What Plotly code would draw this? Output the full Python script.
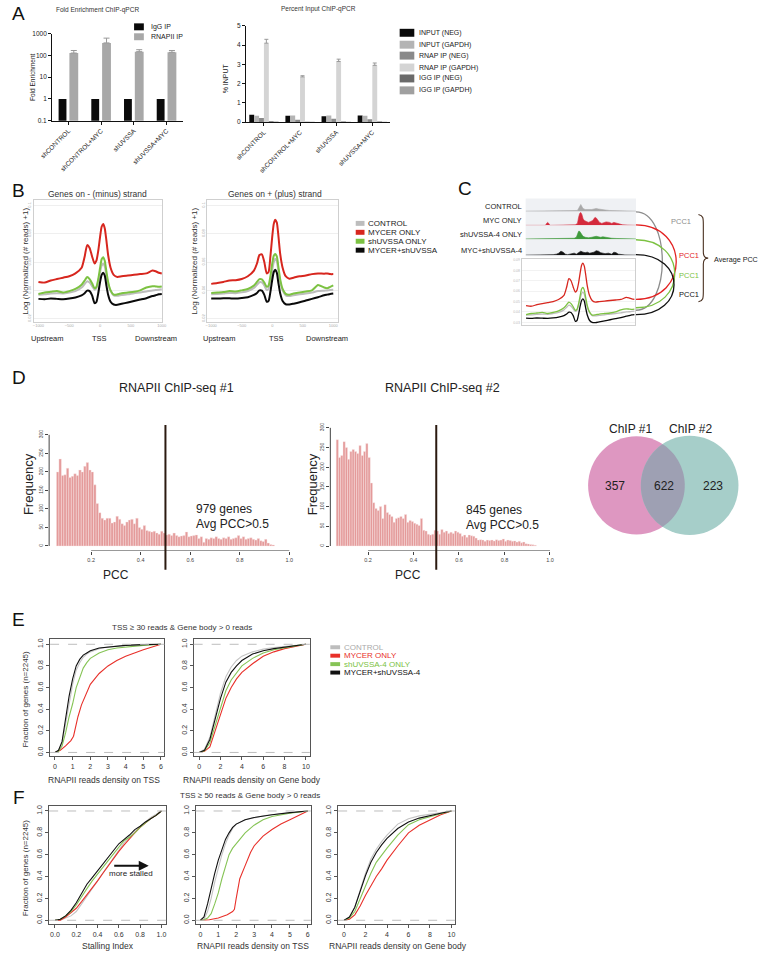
import numpy as np
import plotly.graph_objects as go

W, H = 763, 955
FONT = "Liberation Sans, Arial, sans-serif"

# ---------------- DATA ----------------
# Panel A
a_groups = ["shCONTROL", "shCONTROL+MYC", "shUVSSA", "shUVSSA+MYC"]
a_igg = [1, 1, 1, 1]
a_rnapii = [130, 380, 150, 140]
a_rnapii_err = [40, 250, 35, 30]

pi_names = ["INPUT (NEG)", "INPUT (GAPDH)", "RNAP IP (NEG)", "RNAP IP (GAPDH)", "IGG IP (NEG)", "IGG IP (GAPDH)"]
pi_input_neg = [0.38, 0.33, 0.30, 0.34]
pi_input_gapdh = [0.33, 0.34, 0.35, 0.33]
pi_rnap_neg = [0.22, 0.13, 0.17, 0.15]
pi_rnap_gapdh = [4.10, 2.35, 3.15, 2.95]
pi_rnap_gapdh_err = [0.20, 0.06, 0.12, 0.12]
pi_igg_neg = [0.05, 0.02, 0.03, 0.03]
pi_igg_gapdh = [0.03, 0.02, 0.02, 0.02]

# Panel B (metagene profiles)
b_x = [-1000, -900, -800, -700, -600, -500, -400, -300, -250, -210, -170, -130, -90, -60, -30, 0,
       25, 50, 75, 100, 130, 170, 220, 280, 350, 450, 550, 650, 750, 850, 900, 950, 1000]
bL_control = [0.0370, 0.0372, 0.0378, 0.0380, 0.0378, 0.0385, 0.0395, 0.0420, 0.0445, 0.0465, 0.0455,
              0.0430, 0.0405, 0.0415, 0.0465, 0.0530, 0.0575, 0.0590, 0.0570, 0.0510, 0.0445, 0.0395,
              0.0365, 0.0362, 0.0368, 0.0372, 0.0380, 0.0385, 0.0392, 0.0400, 0.0402, 0.0405, 0.0408]
bL_mycer = [0.0460, 0.0455, 0.0470, 0.0480, 0.0490, 0.0500, 0.0520, 0.0560, 0.0640, 0.0720, 0.0700,
            0.0640, 0.0590, 0.0610, 0.0680, 0.0780, 0.0850, 0.0870, 0.0840, 0.0760, 0.0650, 0.0560,
            0.0510, 0.0495, 0.0500, 0.0505, 0.0510, 0.0515, 0.0520, 0.0540, 0.0535, 0.0525, 0.0520]
bL_shuvssa = [0.0375, 0.0385, 0.0390, 0.0395, 0.0385, 0.0395, 0.0410, 0.0440, 0.0470, 0.0495, 0.0480,
              0.0450, 0.0415, 0.0425, 0.0480, 0.0560, 0.0620, 0.0635, 0.0610, 0.0540, 0.0460, 0.0400,
              0.0370, 0.0372, 0.0380, 0.0385, 0.0390, 0.0400, 0.0420, 0.0430, 0.0428, 0.0425, 0.0428]
bL_both = [0.0340, 0.0338, 0.0342, 0.0340, 0.0338, 0.0342, 0.0350, 0.0365, 0.0380, 0.0398, 0.0395,
           0.0365, 0.0310, 0.0318, 0.0380, 0.0460, 0.0510, 0.0525, 0.0505, 0.0440, 0.0370, 0.0320,
           0.0300, 0.0298, 0.0305, 0.0315, 0.0325, 0.0335, 0.0345, 0.0360, 0.0365, 0.0372, 0.0375]
bR_control = [0.0373, 0.0375, 0.0378, 0.0382, 0.0380, 0.0386, 0.0396, 0.0418, 0.0440, 0.0458, 0.0456,
              0.0435, 0.0402, 0.0412, 0.0470, 0.0545, 0.0600, 0.0623, 0.0605, 0.0540, 0.0460, 0.0400,
              0.0365, 0.0360, 0.0366, 0.0372, 0.0378, 0.0385, 0.0395, 0.0398, 0.0400, 0.0402, 0.0404]
bR_mycer = [0.0446, 0.0452, 0.0460, 0.0470, 0.0472, 0.0480, 0.0500, 0.0540, 0.0590, 0.0650, 0.0655,
            0.0600, 0.0520, 0.0530, 0.0640, 0.0780, 0.0870, 0.0900, 0.0880, 0.0790, 0.0660, 0.0560,
            0.0500, 0.0483, 0.0490, 0.0500, 0.0505, 0.0515, 0.0520, 0.0518, 0.0520, 0.0515, 0.0515]
bR_shuvssa = [0.0382, 0.0385, 0.0388, 0.0395, 0.0392, 0.0400, 0.0410, 0.0435, 0.0460, 0.0480, 0.0478,
              0.0455, 0.0425, 0.0435, 0.0500, 0.0590, 0.0645, 0.0658, 0.0640, 0.0570, 0.0480, 0.0410,
              0.0375, 0.0370, 0.0378, 0.0385, 0.0392, 0.0400, 0.0438, 0.0420, 0.0415, 0.0425, 0.0435]
bR_both = [0.0343, 0.0342, 0.0345, 0.0344, 0.0342, 0.0346, 0.0352, 0.0368, 0.0382, 0.0400, 0.0398,
           0.0368, 0.0320, 0.0326, 0.0390, 0.0475, 0.0530, 0.0546, 0.0525, 0.0455, 0.0380, 0.0325,
           0.0302, 0.0300, 0.0306, 0.0316, 0.0328, 0.0340, 0.0352, 0.0365, 0.0370, 0.0375, 0.0378]
b_legend = ["CONTROL", "MYCER ONLY", "shUVSSA ONLY", "MYCER+shUVSSA"]

# Panel C (browser tracks)
c_names = ["CONTROL", "MYC ONLY", "shUVSSA-4 ONLY", "MYC+shUVSSA-4"]
c_ctrl_x = [0, 45, 47, 48, 49, 50, 51, 52, 54, 58, 60, 62, 64, 66, 68, 72, 76, 80, 85, 90, 100]
c_ctrl_y = [0.3, 0.3, 1, 3, 6, 7, 5, 3, 2, 1.5, 2, 2.5, 3, 2.5, 2, 1.5, 1, 0.8, 0.5, 0.3, 0.3]
c_myc_x = [0, 18, 19, 20, 21, 22, 45, 47, 48, 49, 50, 51, 52, 53, 55, 57, 59, 61, 62, 63, 64, 65, 66,
           67, 69, 71, 73, 76, 78, 80, 82, 85, 88, 92, 100]
c_myc_y = [0, 0, 2, 3, 2, 0, 0.5, 2, 8, 12, 13, 11, 7, 5, 4, 3, 4, 5, 7, 8, 7.5, 6, 5, 3, 2, 3, 3.5,
           3, 2, 3, 2.5, 1, 0.5, 0.3, 0]
c_sh_x = [0, 40, 44, 46, 47, 48, 49, 50, 51, 52, 54, 57, 60, 62, 64, 66, 68, 70, 72, 75, 78, 82, 88, 95, 100]
c_sh_y = [0.3, 0.3, 1, 2, 5, 8, 8, 6, 4, 3, 2, 1.5, 2, 2.5, 3, 2.5, 2, 2.5, 2, 1.5, 1, 0.8, 0.5, 0.3, 0.3]
c_both_x = [0, 20, 25, 28, 30, 32, 34, 36, 38, 40, 44, 46, 48, 50, 52, 54, 56, 58, 60, 62, 64, 66, 68,
            72, 75, 78, 80, 82, 84, 86, 90, 100]
c_both_y = [0, 0, 0.5, 1, 2, 4, 3, 1, 0.5, 1, 2, 1, 2.5, 4, 3, 2.5, 3, 2, 2.5, 3, 4.5, 4, 2.5, 1.5, 2,
            1, 3, 2.5, 1, 0.5, 0.2, 0]

# Panel D (PCC histograms, bin width 0.01 starting at 0.06)
d1_counts = [200, 235, 190, 192, 210, 185, 188, 195, 190, 205, 200, 215, 225, 205, 200, 165, 115, 90,
             75, 70, 75, 75, 62, 65, 80, 72, 60, 55, 65, 70, 72, 60, 75, 50, 45, 55, 42, 40, 38, 40,
             35, 32, 40, 35, 30, 32, 28, 35, 28, 25, 27, 28, 38, 25, 27, 28, 30, 20, 25, 10, 20, 18,
             22, 20, 25, 20, 18, 22, 20, 25, 18, 20, 22, 28, 20, 25, 18, 20, 22, 18, 16, 20, 14, 12,
             18, 8, 4, 3]
d2_counts = [270, 225, 230, 265, 250, 220, 240, 245, 240, 235, 255, 230, 240, 260, 225, 160, 110, 95,
             90, 100, 70, 105, 85, 80, 75, 60, 70, 72, 75, 70, 80, 60, 65, 62, 58, 55, 52, 70, 40, 38,
             30, 28, 30, 40, 38, 30, 42, 35, 38, 32, 35, 32, 38, 35, 32, 25, 28, 22, 28, 26, 25, 20,
             15, 16, 15, 12, 15, 14, 15, 13, 16, 14, 15, 18, 12, 15, 14, 12, 13, 10, 12, 8, 10, 6, 5,
             4, 3, 2]
d_bin_start = 0.06
d_bin_width = 0.01
d1_genes, d2_genes = 979, 845
venn_only1, venn_both, venn_only2 = 357, 622, 223

# Panel E / F cumulative distributions
cdf_legend = ["CONTROL", "MYCER ONLY", "shUVSSA-4 ONLY", "MYCER+shUVSSA-4"]
e1_x = [0, 0.2, 0.4, 0.6, 0.8, 1.0, 1.2, 1.4, 1.6, 1.8, 2.0, 2.5, 3.0, 3.5, 4.0, 5.0, 6.0]
e1_ctrl = [0, 0.01, 0.08, 0.27, 0.47, 0.63, 0.76, 0.83, 0.88, 0.91, 0.93, 0.96, 0.975, 0.985, 0.99, 0.997, 1.0]
e1_black = [0, 0.02, 0.10, 0.32, 0.52, 0.68, 0.80, 0.86, 0.90, 0.92, 0.94, 0.965, 0.975, 0.985, 0.99, 0.997, 1.0]
e1_green = [0, 0.01, 0.06, 0.18, 0.33, 0.45, 0.60, 0.70, 0.78, 0.83, 0.87, 0.92, 0.95, 0.965, 0.975, 0.99, 1.0]
e1_red_x = [0, 0.3, 0.6, 0.9, 1.05, 1.15, 1.3, 1.5, 1.8, 2.0, 2.5, 3.0, 3.5, 4.0, 4.5, 5.0, 6.0]
e1_red = [0, 0.02, 0.06, 0.11, 0.15, 0.22, 0.33, 0.44, 0.56, 0.63, 0.73, 0.80, 0.85, 0.89, 0.92, 0.95, 1.0]

e2_x = [0, 0.5, 1, 1.5, 2, 2.5, 3, 3.5, 4, 5, 6, 7, 8, 9, 10]
e2_ctrl = [0, 0.03, 0.14, 0.34, 0.55, 0.70, 0.79, 0.85, 0.89, 0.93, 0.955, 0.97, 0.98, 0.99, 1.0]
e2_black = [0, 0.02, 0.12, 0.30, 0.50, 0.65, 0.74, 0.80, 0.85, 0.91, 0.94, 0.96, 0.975, 0.99, 1.0]
e2_green = [0, 0.015, 0.09, 0.25, 0.43, 0.57, 0.67, 0.74, 0.80, 0.87, 0.92, 0.95, 0.97, 0.985, 1.0]
e2_red = [0, 0.01, 0.05, 0.20, 0.37, 0.50, 0.60, 0.68, 0.74, 0.82, 0.89, 0.93, 0.96, 0.98, 1.0]

f1_x = [0, 0.05, 0.1, 0.15, 0.2, 0.25, 0.3, 0.35, 0.4, 0.45, 0.5, 0.55, 0.6, 0.65, 0.7, 0.75, 0.8, 0.85, 0.9, 0.95, 1.0]
f1_ctrl = [0, 0.0, 0.02, 0.04, 0.08, 0.15, 0.22, 0.30, 0.37, 0.44, 0.51, 0.58, 0.65, 0.71, 0.76, 0.81, 0.86, 0.90, 0.94, 0.97, 1.0]
f1_black = [0, 0.01, 0.04, 0.09, 0.16, 0.24, 0.33, 0.39, 0.45, 0.52, 0.57, 0.63, 0.70, 0.74, 0.78, 0.83, 0.86, 0.90, 0.93, 0.96, 1.0]
f1_green = [0, 0.01, 0.04, 0.08, 0.14, 0.22, 0.29, 0.36, 0.42, 0.48, 0.54, 0.60, 0.66, 0.73, 0.76, 0.80, 0.85, 0.89, 0.93, 0.96, 1.0]
f1_red = [0, 0.0, 0.03, 0.07, 0.11, 0.17, 0.23, 0.30, 0.36, 0.43, 0.50, 0.57, 0.63, 0.69, 0.75, 0.80, 0.85, 0.89, 0.93, 0.96, 1.0]

f2_x = [0, 0.2, 0.4, 0.6, 0.8, 1.0, 1.2, 1.4, 1.6, 1.8, 2.0, 2.5, 3.0, 3.5, 4.0, 5.0, 6.0]
f2_ctrl = [0, 0.01, 0.08, 0.20, 0.35, 0.48, 0.60, 0.70, 0.78, 0.84, 0.88, 0.92, 0.94, 0.955, 0.965, 0.985, 1.0]
f2_black = [0, 0.03, 0.15, 0.30, 0.43, 0.55, 0.65, 0.74, 0.80, 0.85, 0.88, 0.92, 0.94, 0.955, 0.965, 0.985, 1.0]
f2_green = [0, 0.005, 0.02, 0.06, 0.15, 0.25, 0.38, 0.50, 0.60, 0.66, 0.70, 0.80, 0.87, 0.92, 0.95, 0.98, 1.0]
f2_red_x = [0, 0.5, 1.0, 1.5, 1.8, 1.9, 2.0, 2.2, 2.5, 2.8, 3.0, 3.5, 4.0, 4.5, 5.0, 5.5, 6.0]
f2_red = [0, 0.005, 0.02, 0.05, 0.08, 0.10, 0.20, 0.38, 0.50, 0.62, 0.68, 0.77, 0.83, 0.88, 0.92, 0.96, 1.0]

f3_x = [0, 0.5, 1, 1.5, 2, 2.5, 3, 3.5, 4, 5, 6, 7, 8, 9, 10]
f3_ctrl = [0, 0.02, 0.12, 0.28, 0.43, 0.56, 0.65, 0.72, 0.78, 0.88, 0.93, 0.955, 0.97, 0.985, 1.0]
f3_black = [0, 0.03, 0.12, 0.27, 0.41, 0.53, 0.62, 0.69, 0.75, 0.84, 0.90, 0.935, 0.96, 0.98, 1.0]
f3_green = [0, 0.02, 0.08, 0.20, 0.32, 0.43, 0.53, 0.60, 0.66, 0.78, 0.875, 0.92, 0.95, 0.975, 1.0]
f3_red = [0, 0.01, 0.05, 0.13, 0.23, 0.32, 0.40, 0.47, 0.55, 0.68, 0.80, 0.87, 0.92, 0.965, 1.0]

# ---------------- HELPERS ----------------
def xd(a, b):
    return [a / W, b / W]


def yd(top, bottom):
    return [1 - bottom / H, 1 - top / H]


def px(x):
    return x / W


def py(y):
    return 1 - y / H


fig = go.Figure()
layout = {}
annotations = []
shapes = []
count = [0]


def new_axes(xdom, ydom, xopts=None, yopts=None):
    count[0] += 1
    n = count[0]
    xn = 'xaxis' if n == 1 else f'xaxis{n}'
    yn = 'yaxis' if n == 1 else f'yaxis{n}'
    xr = 'x' if n == 1 else f'x{n}'
    yr = 'y' if n == 1 else f'y{n}'
    base = dict(showgrid=False, zeroline=False, showline=False, ticks='', showticklabels=False,
                fixedrange=True)
    xo = dict(base, domain=xdom, anchor=yr)
    xo.update(xopts or {})
    yo = dict(base, domain=ydom, anchor=xr)
    yo.update(yopts or {})
    layout[xn] = xo
    layout[yn] = yo
    return xr, yr


def text(x, y, s, size, color='#222', xanchor='center', yanchor='middle', angle=0):
    annotations.append(dict(x=px(x), y=py(y), xref='paper', yref='paper', text=s, showarrow=False,
                            font=dict(size=size, color=color, family=FONT), xanchor=xanchor,
                            yanchor=yanchor, textangle=angle))


def prect(x0, y0, x1, y1, fill, layer='above'):
    shapes.append(dict(type='rect', xref='paper', yref='paper', x0=px(x0), x1=px(x1), y0=py(y1),
                       y1=py(y0), fillcolor=fill, line=dict(color=fill, width=0), layer=layer))


def ppath(points_cmd, color, width=1.2, fill=None):
    shapes.append(dict(type='path', xref='paper', yref='paper', path=points_cmd,
                       line=dict(color=color, width=width), fillcolor=fill, layer='above'))


def P(x, y):
    return f"{px(x):.5f},{py(y):.5f}"


# ---------------- PANEL A ----------------
tickf = dict(size=6.5, color='#222', family=FONT)
xa, ya = new_axes(xd(40, 174), yd(30, 117.5),
                  dict(type='category', range=[-0.5, 3.5], showline=True, linecolor='#111', linewidth=1,
                       ticks='outside', ticklen=3, tickcolor='#111', tickangle=-45, showticklabels=True,
                       tickfont=tickf, categoryorder='array', categoryarray=a_groups),
                  dict(type='log', range=[-1, 3], showline=True, linecolor='#111', linewidth=1,
                       ticks='outside', ticklen=3, tickcolor='#111', tickvals=[0.1, 1, 10, 100, 1000],
                       ticktext=['0.1', '1', '10', '100', '1000'], showticklabels=True, tickfont=tickf))
fig.add_trace(go.Bar(x=a_groups, y=a_igg, offset=-0.30, width=0.24, marker=dict(color='#0a0a0a', line=dict(width=0)),
                     xaxis=xa, yaxis=ya, showlegend=False))
fig.add_trace(go.Bar(x=a_groups, y=a_rnapii, offset=0.03, width=0.27, marker=dict(color='#a8a8a8', line=dict(width=0)),
                     error_y=dict(type='data', array=a_rnapii_err, arrayminus=[0] * 4, symmetric=False,
                                  color='#999', thickness=1, width=3),
                     xaxis=xa, yaxis=ya, showlegend=False))
text(87, 6, "Fold Enrichment ChIP-qPCR", 6.5, '#333')
text(20, 74, "Fold Enrichment", 6.5, '#222', angle=-90)
prect(124, 19.5, 134, 26.5, '#0a0a0a')
text(139, 23, "IgG IP", 7, '#222', xanchor='left')
prect(124, 29.5, 134, 36.5, '#a8a8a8')
text(139, 33, "RNAPII IP", 7, '#222', xanchor='left')

pi_series = [pi_input_neg, pi_input_gapdh, pi_rnap_neg, pi_rnap_gapdh, pi_igg_neg, pi_igg_gapdh]
pi_colors = ['#0a0a0a', '#b4b4b4', '#8a8a8a', '#d4d4d4', '#6a6a6a', '#a0a0a0']
xa2, ya2 = new_axes(xd(238.5, 386.5), yd(22, 119),
                    dict(type='category', range=[-0.5, 3.5], showline=True, linecolor='#111', linewidth=1,
                         ticks='outside', ticklen=3, tickcolor='#111', tickangle=-45, showticklabels=True,
                         tickfont=tickf, categoryorder='array', categoryarray=a_groups),
                    dict(range=[0, 5], showline=True, linecolor='#111', linewidth=1, ticks='outside',
                         ticklen=3, tickcolor='#111', tickvals=[0, 1, 2, 3, 4, 5], showticklabels=True,
                         tickfont=tickf))
bw = 5 / 37
for i, (name, vals, col) in enumerate(zip(pi_names, pi_series, pi_colors)):
    kw = {}
    if name == "RNAP IP (GAPDH)":
        kw['error_y'] = dict(type='data', array=pi_rnap_gapdh_err, arrayminus=[0] * 4, symmetric=False,
                             color='#999', thickness=1, width=2)
    fig.add_trace(go.Bar(x=a_groups, y=vals, offset=-15 / 37 + i * bw, width=bw,
                         marker=dict(color=col, line=dict(width=0)), xaxis=xa2, yaxis=ya2,
                         showlegend=False, **kw))
text(313, 5, "Percent Input ChIP-qPCR", 6.5, '#333')
text(218, 75, "% INPUT", 7, '#222', angle=-90)
leg_y = [29, 41, 52, 64, 75, 87]
for name, col, yy in zip(pi_names, pi_colors, leg_y):
    prect(396, yy - 4, 411, yy + 4, col)
    text(414, yy, name, 7, '#222', xanchor='left')
text(6, 10, "A", 19, '#111')

# ---------------- PANEL B ----------------
b_colors = ['#bdbdbd', '#d7261e', '#7cc242', '#0a0a0a']


def b_axes(x0, x1, xr):
    return new_axes(xd(x0, x1), yd(197, 320),
                    dict(range=xr, showline=True, mirror=True, linecolor='#cfcfcf', linewidth=1,
                         tickvals=[-1000, -500, 0, 500, 1000], showticklabels=True,
                         tickfont=dict(size=4, color='#aaa', family=FONT)),
                    dict(range=[0.0179, 0.1042], showline=True, mirror=True, linecolor='#cfcfcf',
                         linewidth=1, showgrid=True, gridcolor='#efefef',
                         tickvals=[0.02, 0.04, 0.06, 0.08, 0.10], showticklabels=True, tickangle=-90,
                         tickfont=dict(size=4, color='#aaa', family=FONT)))


bL = [bL_control, bL_mycer, bL_shuvssa, bL_both]
bR = [bR_control, bR_mycer, bR_shuvssa, bR_both]
xb1, yb1 = b_axes(21, 153, [-1080, 1010])
xb2, yb2 = b_axes(199, 333, [-1064, 1080])
for xr, yr, series in [(xb1, yb1, bL), (xb2, yb2, bR)]:
    for k in [0, 2, 1, 3]:
        fig.add_trace(go.Scatter(x=b_x, y=series[k], mode='lines',
                                 line=dict(color=b_colors[k], width=2, shape='spline', smoothing=0.6),
                                 xaxis=xr, yaxis=yr, showlegend=False, hoverinfo='skip'))
text(87, 191, "Genes on - (minus) strand", 8.5, '#333')
text(268, 191, "Genes on + (plus) strand", 8.5, '#333')
text(12, 259, "Log (Normalized (# reads) +1)", 8, '#333', angle=-90)
text(185, 259, "Log (Normalized (# reads) +1)", 8, '#333', angle=-90)
for xc, lab in [(35, "Upstream"), (89, "TSS"), (146, "Downstream"),
                (211, "Upstream"), (270, "TSS"), (322, "Downstream")]:
    text(xc, 337, lab, 7.5, '#222')
for k, yy in enumerate([221, 230, 239, 248]):
    prect(351, yy - 2.5, 360, yy + 2.5, b_colors[k])
    text(362, yy, b_legend[k], 8, '#222', xanchor='left')
text(6, 188, "B", 19, '#111')

# ---------------- PANEL C ----------------
text(463, 186, "C", 19, '#111')
prect(525, 196, 638, 254, '#eff1f4', layer='below')
c_tracks = [(c_ctrl_x, c_ctrl_y, '#a9a9a9', 195, 209), (c_myc_x, c_myc_y, '#d42a3c', 209, 223),
            (c_sh_x, c_sh_y, '#3f9a3c', 223, 237), (c_both_x, c_both_y, '#111111', 239, 253)]
for (tx, ty, col, top, base), nm in zip(c_tracks, c_names):
    xr, yr = new_axes(xd(525, 638), yd(top, base), dict(range=[0, 100]), dict(range=[0, 14]))
    fig.add_trace(go.Scatter(x=tx, y=ty, mode='lines', fill='tozeroy', fillcolor=col,
                             line=dict(color=col, width=0.6), xaxis=xr, yaxis=yr, showlegend=False,
                             hoverinfo='skip'))
    text(523, base - 5, nm, 7.5, '#222', xanchor='right')
xc5, yc5 = new_axes(xd(521, 637), yd(257, 323),
                    dict(range=[-1080, 1010], showline=True, mirror=True, linecolor='#cfcfcf', linewidth=1),
                    dict(range=[0.0278, 0.0908], showline=True, mirror=True, linecolor='#cfcfcf',
                         linewidth=1, showgrid=True, gridcolor='#f2f2f2', tickvals=[0.03, 0.04, 0.05, 0.06, 0.07, 0.08, 0.09],
                         showticklabels=True, tickfont=dict(size=3.5, color='#bbb', family=FONT)))
for k in [0, 2, 1, 3]:
    fig.add_trace(go.Scatter(x=b_x, y=bL[k], mode='lines',
                             line=dict(color=b_colors[k], width=1.3, shape='spline', smoothing=0.6),
                             xaxis=xc5, yaxis=yc5, showlegend=False, hoverinfo='skip'))
# connector arcs
arcs = [('#8c8c8c', 209.5, 308.5, 36), ('#e32222', 222.5, 297.5, 55),
        ('#7cc242', 237.5, 306, 53), ('#111111', 252.5, 313, 52)]
for col, y0, y3, k in arcs:
    ppath(f"M {P(638, y0)} C {P(638 + k, y0)} {P(638 + k, y3)} {P(638, y3)}", col, 1.3)
text(672, 219, "PCC1", 7.5, '#8c8c8c', xanchor='left')
text(680, 253, "PCC1", 7.5, '#e32222', xanchor='left')
text(680, 274, "PCC1", 7.5, '#7cc242', xanchor='left')
text(680, 293, "PCC1", 7.5, '#111', xanchor='left')
ppath(f"M {P(702, 212)} C {P(707, 213)} {P(707, 216)} {P(707, 222)} L {P(707, 250)} "
      f"C {P(707, 254)} {P(709, 256)} {P(712, 256)} C {P(709, 256)} {P(707, 258)} {P(707, 262)} "
      f"L {P(707, 290)} C {P(707, 296)} {P(707, 299)} {P(702, 300)}", '#4a3020', 1.1)
text(716, 257, "Average PCC", 7.2, '#222', xanchor='left')

# ---------------- PANEL D ----------------
text(6, 376, "D", 19, '#111')
hist_col = '#E49A9A'
d1_x = [round(d_bin_start + d_bin_width * (i + 0.5), 3) for i in range(len(d1_counts))]
d2_x = [round(d_bin_start + d_bin_width * (i + 0.5), 3) for i in range(len(d2_counts))]


def d_axes(x0, x1, xr, yr):
    return new_axes(xd(x0, x1), yd(420, 551),
                    dict(range=xr, ticks='outside', ticklen=3, tickcolor='#444',
                         tickvals=[0.2, 0.4, 0.6, 0.8, 1.0], ticktext=['0.2', '0.4', '0.6', '0.8', '1.0'],
                         showticklabels=True, tickfont=dict(size=5.5, color='#444', family=FONT)),
                    dict(range=yr, ticks='outside', ticklen=3, tickcolor='#444',
                         tickvals=[0, 50, 100, 150, 200, 250, 300], showticklabels=True, tickangle=-90,
                         tickfont=dict(size=5, color='#444', family=FONT)))


xd1, yd1 = d_axes(37, 290, [0.0305, 1.0276], [-13.4, 337.5])
xd2, yd2 = d_axes(325, 556, [0.0343, 1.026], [-12.6, 317.6])
for xr, yr, xs, cs, rng in [(xd1, yd1, d1_x, d1_counts, -13.4), (xd2, yd2, d2_x, d2_counts, -12.6)]:
    fig.add_trace(go.Bar(x=xs, y=cs, width=d_bin_width, marker=dict(color=hist_col, line=dict(color='#fbeaea', width=0.4)),
                         xaxis=xr, yaxis=yr, showlegend=False, hoverinfo='skip'))
    shapes.append(dict(type='line', xref=xr, yref=yr, x0=0.2, x1=1.0, y0=rng, y1=rng,
                       line=dict(color='#444', width=1)))
    shapes.append(dict(type='line', xref=f'{xr} domain', yref=yr, x0=0, x1=0, y0=0, y1=300,
                       line=dict(color='#444', width=1)))
    shapes.append(dict(type='line', xref=xr, yref='paper', x0=0.5, x1=0.5, y0=py(570), y1=py(424),
                       line=dict(color='#2b1a10', width=2), layer='above'))
text(167, 387, "RNAPII ChIP-seq #1", 12.5, '#222')
text(440, 387, "RNAPII ChIP-seq #2", 12.5, '#222')
text(16, 484, "Frequency", 13, '#222', angle=-90)
text(307, 484, "Frequency", 13, '#222', angle=-90)
text(105, 575, "PCC", 12, '#222')
text(405, 575, "PCC", 12, '#222')
text(185, 509, f"{d1_genes} genes", 12, '#222', xanchor='left')
text(185, 524, "Avg PCC>0.5", 12, '#222', xanchor='left')
text(462, 510, f"{d2_genes} genes", 12, '#222', xanchor='left')
text(462, 525, "Avg PCC>0.5", 12, '#222', xanchor='left')

# Venn
c1x, c2x, cy, r1, r2 = 638.5, 693.0, 485.0, 49.5, 50.0
shapes.append(dict(type='circle', xref='paper', yref='paper', x0=px(c1x - r1), x1=px(c1x + r1),
                   y0=py(cy + r1), y1=py(cy - r1), fillcolor='#DE97C1', line=dict(width=0)))
shapes.append(dict(type='circle', xref='paper', yref='paper', x0=px(c2x - r2), x1=px(c2x + r2),
                   y0=py(cy + r2), y1=py(cy - r2), fillcolor='#A6CEC9', line=dict(width=0)))
dd = c2x - c1x
aa = (r1 ** 2 - r2 ** 2 + dd ** 2) / (2 * dd)
hh = np.sqrt(r1 ** 2 - aa ** 2)
t1 = np.arctan2(hh, aa)
t2 = np.arctan2(hh, dd - aa)
pts = [(c1x + r1 * np.cos(t), cy + r1 * np.sin(t)) for t in np.linspace(-t1, t1, 40)]
pts += [(c2x + r2 * np.cos(t), cy + r2 * np.sin(t)) for t in np.linspace(np.pi - t2, np.pi + t2, 40)]
lens = "M " + " L ".join(P(x, y) for x, y in pts) + " Z"
shapes.append(dict(type='path', xref='paper', yref='paper', path=lens, fillcolor='#9EA0B3',
                   line=dict(width=0)))
text(632, 428, "ChIP #1", 12, '#222')
text(694, 428, "ChIP #2", 12, '#222')
text(617, 486, str(venn_only1), 12, '#222')
text(667, 486, str(venn_both), 12, '#222')
text(717, 486, str(venn_only2), 12, '#222')

# ---------------- PANELS E / F ----------------
cdf_colors = ['#c4c4c4', '#e8302a', '#86c456', '#111111']


def cdf_axes(x0, x1, top, bottom, xr, yr, tv, tt):
    xr_, yr_ = new_axes(xd(x0, x1), yd(top, bottom),
                        dict(range=xr, showline=True, mirror=True, linecolor='#555', linewidth=1,
                             ticks='outside', ticklen=3, tickcolor='#555', tickvals=tv, ticktext=tt,
                             showticklabels=True, tickfont=dict(size=7, color='#333', family=FONT)),
                        dict(range=yr, showline=True, mirror=True, linecolor='#555', linewidth=1,
                             ticks='outside', ticklen=3, tickcolor='#555',
                             tickvals=[0, 0.2, 0.4, 0.6, 0.8, 1.0],
                             ticktext=['0.0', '0.2', '0.4', '0.6', '0.8', '1.0'], tickangle=-90,
                             showticklabels=True, tickfont=dict(size=7, color='#333', family=FONT)))
    for yv in (0, 1):
        shapes.append(dict(type='line', xref=f'{xr_} domain', yref=yr_, x0=0, x1=1, y0=yv, y1=yv,
                           line=dict(color='#bdbdbd', width=1, dash='dash')))
    return xr_, yr_


def add_cdfs(xr, yr, curves):
    for (xs, ys), col in zip(curves, cdf_colors):
        fig.add_trace(go.Scatter(x=xs, y=ys, mode='lines', line=dict(color=col, width=1.1),
                                 xaxis=xr, yaxis=yr, showlegend=False, hoverinfo='skip'))


def int_t(vals):
    return [str(v) for v in vals]


xe1, ye1 = cdf_axes(38, 155, 640, 758, [-0.276, 6.19], [-0.037, 1.046], [0, 1, 2, 3, 4, 5, 6], int_t(range(7)))
add_cdfs(xe1, ye1, [(e1_x, e1_ctrl), (e1_red_x, e1_red), (e1_x, e1_green), (e1_x, e1_black)])
xe2, ye2 = cdf_axes(185, 304, 640, 758, [-0.52, 10.37], [-0.037, 1.046], [0, 2, 4, 6, 8, 10], int_t(range(0, 11, 2)))
add_cdfs(xe2, ye2, [(e2_x, e2_ctrl), (e2_x, e2_red), (e2_x, e2_green), (e2_x, e2_black)])
text(6, 620, "E", 19, '#111')
text(173, 628, "TSS ≥ 30 reads &amp; Gene body &gt; 0 reads", 8, '#333')
text(13, 700, "Fraction of genes (n=2245)", 8, '#333', angle=-90)
text(93, 782, "RNAPII reads density on TSS", 8.5, '#333')
text(245, 782, "RNAPII reads density on Gene body", 8.5, '#333')
for k, yy in enumerate([648, 656.5, 665, 673.5]):
    prect(325, yy - 2, 335, yy + 2, cdf_colors[k] if k != 0 else '#bdbdbd')
    text(337, yy, cdf_legend[k], 8, ['#aaaaaa', '#e8302a', '#7cc242', '#111111'][k], xanchor='left')

xf1, yf1 = cdf_axes(37, 157, 808, 927, [-0.055, 1.046], [-0.036, 1.045],
                    [0, 0.2, 0.4, 0.6, 0.8, 1.0], ['0.0', '0.2', '0.4', '0.6', '0.8', '1.0'])
add_cdfs(xf1, yf1, [(f1_x, f1_ctrl), (f1_x, f1_red), (f1_x, f1_green), (f1_x, f1_black)])
xf2, yf2 = cdf_axes(187, 305, 808, 927, [-0.27, 6.17], [-0.036, 1.045], [0, 1, 2, 3, 4, 5, 6], int_t(range(7)))
add_cdfs(xf2, yf2, [(f2_x, f2_ctrl), (f2_red_x, f2_red), (f2_x, f2_green), (f2_x, f2_black)])
xf3, yf3 = cdf_axes(333, 453, 808, 927, [-0.55, 10.36], [-0.036, 1.045], [0, 2, 4, 6, 8, 10], int_t(range(0, 11, 2)))
add_cdfs(xf3, yf3, [(f3_x, f3_ctrl), (f3_x, f3_red), (f3_x, f3_green), (f3_x, f3_black)])
text(6, 799, "F", 19, '#111')
text(243, 797, "TSS ≥ 50 reads &amp; Gene body &gt; 0 reads", 8, '#333')
text(13, 870, "Fraction of genes (n=2245)", 8, '#333', angle=-90)
text(97, 949, "Stalling Index", 8.5, '#333')
text(246, 949, "RNAPII reads density on TSS", 8.5, '#333')
text(394, 949, "RNAPII reads density on Gene body", 8.5, '#333')
annotations.append(dict(x=px(139), y=py(868), xref='paper', yref='paper', ax=-36, ay=0, text='',
                        showarrow=True, arrowhead=2, arrowsize=1, arrowwidth=2, arrowcolor='#111'))
text(121, 876, "more stalled", 8, '#222')

fig.update_layout(**layout)
fig.update_layout(width=W, height=H, margin=dict(l=0, r=0, t=0, b=0), paper_bgcolor='white',
                  plot_bgcolor='rgba(0,0,0,0)', showlegend=False, barmode='overlay',
                  font=dict(family=FONT, color='#222'), annotations=annotations, shapes=shapes)
fig.write_html("out.html", config={'displayModeBar': False, 'staticPlot': True},
               post_script="document.body.style.margin='0px';document.body.style.overflow='hidden';")
